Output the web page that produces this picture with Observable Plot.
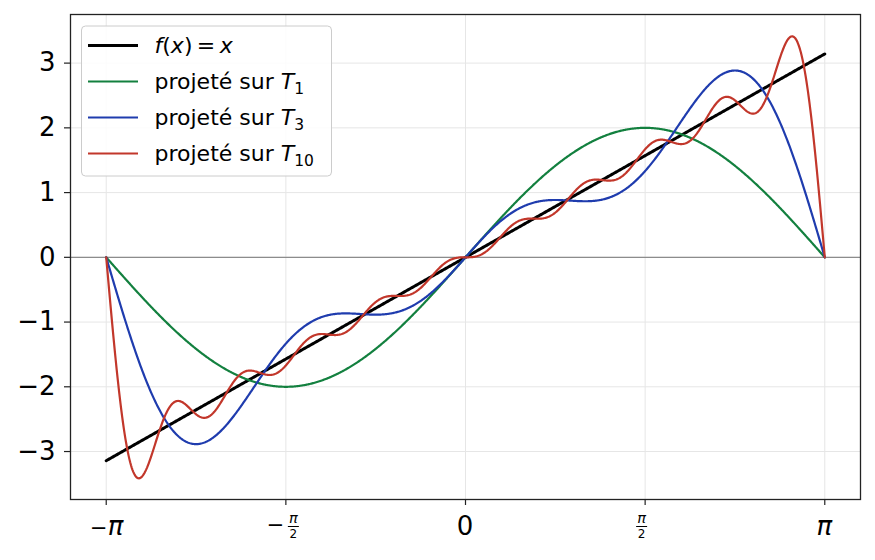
<!DOCTYPE html>
<html>
<head>
<meta charset="utf-8">
<script src="https://cdn.jsdelivr.net/npm/d3@7"></script>
<script src="https://cdn.jsdelivr.net/npm/@observablehq/plot@0.6"></script>
<style>
  body { margin: 0; background: #fff; }
  #chart { width: 875px; height: 560px; }
</style>
</head>
<body>
<div id="chart"></div>
<script>
// Series definitions
const seriesNames = ["f(x) = x", "projeté sur T1", "projeté sur T3", "projeté sur T10"];
const seriesOrders = [null, 1, 3, 10];           // degree of the trigonometric projection
const seriesColors = ["#000000", "#13803f", "#1f3cae", "#c2372b"];
const seriesWidths = [3, 2.2, 2.2, 2.2];
// Fourier sine coefficients b_k of f(x)=x on [-π, π], k = 1..10
const coefB = [2, -1, 0.6667, -0.5, 0.4, -0.3333, 0.2857, -0.25, 0.2222, -0.2];
// Axis ticks
const xTickValues = [-Math.PI, -Math.PI / 2, 0, Math.PI / 2, Math.PI];
const xTickLabels = [["−", "π", null], ["−", "π", "2"], ["", "0", null], ["", "π", "2"], ["", "π", null]];
const yTickValues = [-3, -2, -1, 0, 1, 2, 3];

const N = 900;
const xs = d3.range(N + 1).map(i => -Math.PI + (2 * Math.PI * i) / N);
function partial(x, n) {
  let s = 0;
  for (let k = 1; k <= n; k++) s += coefB[k - 1] * Math.sin(k * x);
  return s;
}
const rows = [];
seriesNames.forEach((name, si) => {
  xs.forEach(x => {
    rows.push({ series: name, x, y: seriesOrders[si] == null ? x : partial(x, seriesOrders[si]) });
  });
});

const FONT = "DejaVu Sans, sans-serif";

function xLabels(index, scales, values, dimensions) {
  const g = d3.create("svg:g").attr("font-family", FONT).attr("fill", "#000");
  const yb = dimensions.height - dimensions.marginBottom;
  xTickValues.forEach((v, i) => {
    const [sign, top, bottom] = xTickLabels[i];
    const cx = scales.x(v);
    if (bottom == null) {
      const t = g.append("text").attr("x", cx + (sign ? 1 : 0)).attr("y", yb + 36)
        .attr("text-anchor", "middle");
      if (sign) t.append("tspan").attr("font-size", 21).text(sign);
      t.append("tspan").attr("font-size", 26)
        .attr("font-style", top === "π" ? "italic" : "normal").text(top);
    } else {
      const fx = cx + (sign ? 8 : -3);
      if (sign) g.append("text").attr("x", cx - 1).attr("y", yb + 33).attr("text-anchor", "end")
        .attr("font-size", 21).text(sign);
      g.append("text").attr("x", fx).attr("y", yb + 24).attr("text-anchor", "middle")
        .attr("font-size", 14.5).attr("font-style", "italic").text(top);
      g.append("line").attr("x1", fx - 5.5).attr("x2", fx + 5.5)
        .attr("y1", yb + 27.5).attr("y2", yb + 27.5).attr("stroke", "#000").attr("stroke-width", 1);
      g.append("text").attr("x", fx).attr("y", yb + 38.5).attr("text-anchor", "middle")
        .attr("font-size", 12).text(bottom);
    }
  });
  return g.node();
}

function legend(index, scales, values, dimensions) {
  const g = d3.create("svg:g").attr("font-family", FONT);
  const x0 = dimensions.marginLeft + 11.5, y0 = dimensions.marginTop + 12;
  g.append("rect").attr("x", x0).attr("y", y0).attr("width", 250).attr("height", 150)
    .attr("rx", 4).attr("fill", "#fff").attr("fill-opacity", 0.85)
    .attr("stroke", "#cccccc").attr("stroke-width", 1);
  seriesNames.forEach((name, i) => {
    const yy = y0 + 19.5 + i * 36;
    g.append("line").attr("x1", x0 + 6.5).attr("x2", x0 + 56.5).attr("y1", yy).attr("y2", yy)
      .attr("stroke", seriesColors[i]).attr("stroke-width", seriesWidths[i]);
    const t = g.append("text").attr("x", x0 + 73).attr("y", yy + 7.5)
      .attr("text-anchor", "start").attr("font-size", 22).attr("fill", "#000");
    if (seriesOrders[i] == null) {
      t.append("tspan").attr("font-style", "italic").text("f");
      t.append("tspan").text("(");
      t.append("tspan").attr("font-style", "italic").text("x");
      t.append("tspan").text(")\u2009=\u2009");
      t.append("tspan").attr("font-style", "italic").text("x");
    } else {
      t.append("tspan").text("projeté sur ");
      t.append("tspan").attr("font-style", "italic").text("T");
      t.append("tspan").attr("font-size", 15.5).attr("dy", 5).text(String(seriesOrders[i]));
    }
  });
  return g.node();
}

const plot = Plot.plot({
  width: 875,
  height: 560,
  marginLeft: 70,
  marginRight: 15,
  marginTop: 14,
  marginBottom: 61,
  style: { fontFamily: FONT, background: "#fff", overflow: "visible" },
  x: { domain: [-3.454, 3.454] },
  y: { domain: [-3.741, 3.751] },
  marks: [
    Plot.gridX(xTickValues, { stroke: "#e6e6e6", strokeOpacity: 1, strokeWidth: 1 }),
    Plot.gridY(yTickValues, { stroke: "#e6e6e6", strokeOpacity: 1, strokeWidth: 1 }),
    Plot.ruleY([0], { stroke: "#8c8c8c", strokeWidth: 1.3 }),
    ...seriesNames.map((name, i) =>
      Plot.line(rows.filter(r => r.series === name), {
        x: "x", y: "y", stroke: seriesColors[i], strokeWidth: seriesWidths[i]
      })
    ),
    Plot.frame({ stroke: "#222", strokeWidth: 1.3 }),
    Plot.axisY(yTickValues, {
      tickSize: 6, tickPadding: 9, fontSize: 26, stroke: "#222", strokeWidth: 1.2,
      tickFormat: d => (d < 0 ? "−" : "") + Math.abs(d), label: null
    }),
    Plot.axisX(xTickValues, {
      tickSize: 6, stroke: "#222", strokeWidth: 1.2, tickFormat: () => "", label: null
    }),
    xLabels,
    legend
  ]
});
document.getElementById("chart").appendChild(plot);
</script>
</body>
</html>
